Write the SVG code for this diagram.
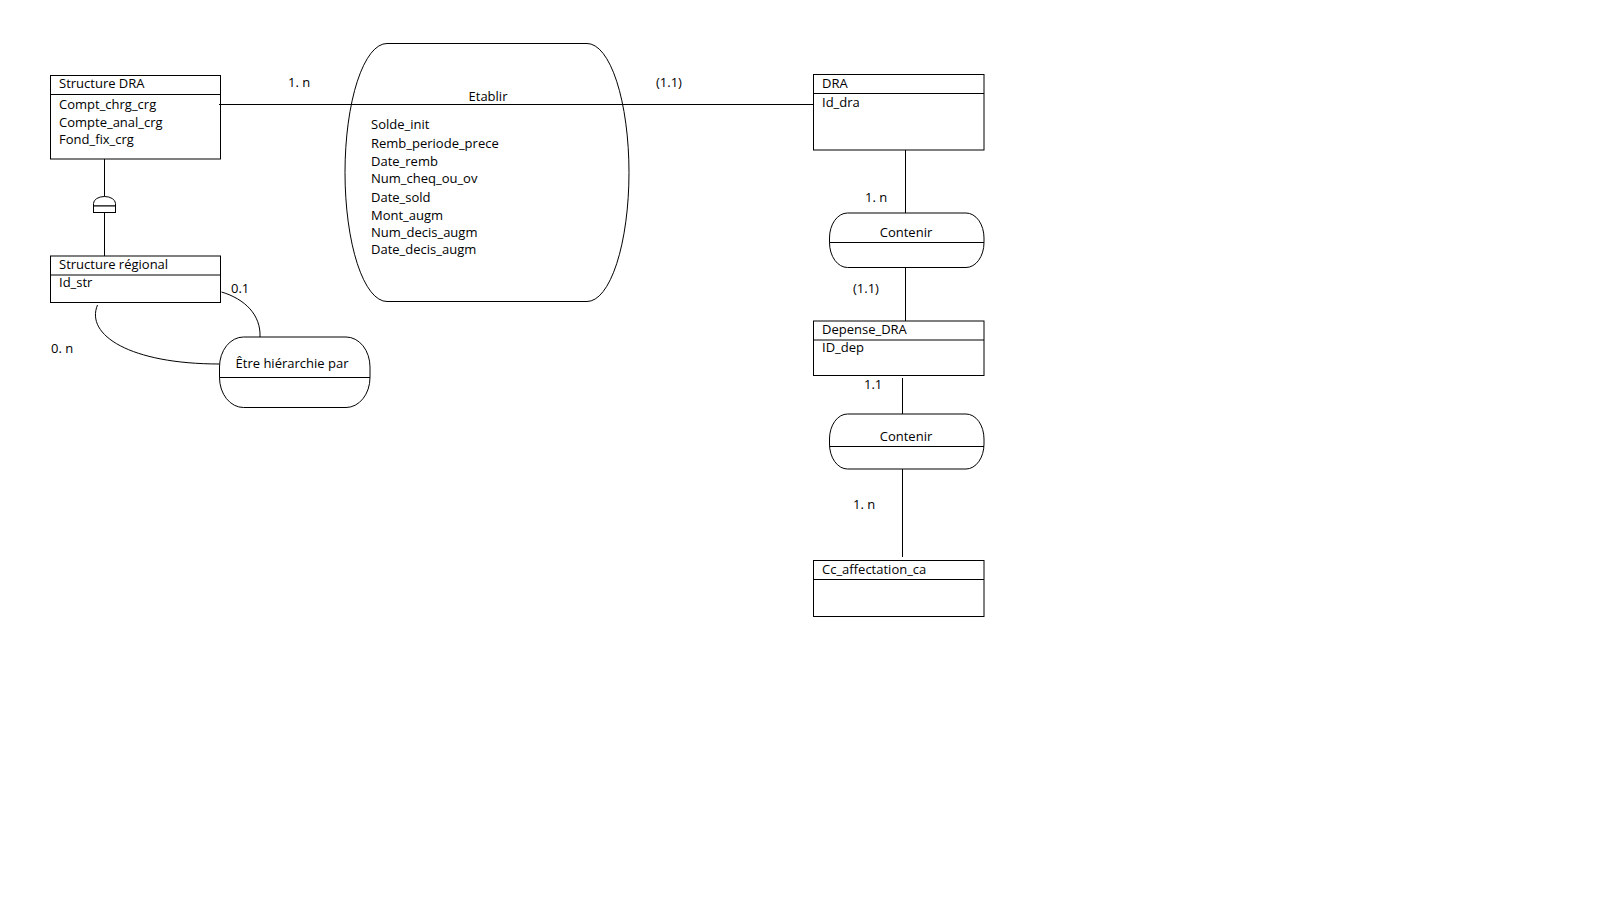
<svg xmlns="http://www.w3.org/2000/svg" width="1602" height="902" viewBox="0 0 1602 902">
<style>
text{font-family:"Open Sans","Liberation Sans",sans-serif;font-size:13px;fill:#000}
.s{fill:none;stroke:#000;stroke-width:1}
.b{fill:#fff;stroke:#000;stroke-width:1}
.m{text-anchor:middle}
</style>
<rect width="1602" height="902" fill="#fff"/>
<g id="connectors">
<line class="s" x1="219" y1="104.5" x2="813" y2="104.5"/>
<line class="s" x1="104.5" y1="159" x2="104.5" y2="197"/>
<line class="s" x1="104.5" y1="212.5" x2="104.5" y2="256"/>
<path class="s" d="M221.5,292 C245,299 261,315 260,337"/>
<path class="s" d="M97.5,305 C85,335 130,364 219.5,364"/>
<line class="s" x1="905.5" y1="150" x2="905.5" y2="213"/>
<line class="s" x1="905.5" y1="267" x2="905.5" y2="321"/>
<line class="s" x1="902.5" y1="378" x2="902.5" y2="414"/>
<line class="s" x1="902.5" y1="469" x2="902.5" y2="557"/>
<path class="b" d="M93.5,206 L93.5,203.5 A11,7 0 0 1 115.5,203.5 L115.5,206 Z"/>
<rect class="b" x="93.5" y="206" width="22" height="6.5"/>
<text x="288" y="87">1. n</text>
<text x="656" y="87">(1.1)</text>
<text x="231" y="293">0.1</text>
<text x="51" y="353">0. n</text>
<text x="865" y="202">1. n</text>
<text x="853" y="293">(1.1)</text>
<text x="864" y="389">1.1</text>
<text x="853" y="509">1. n</text>
</g>
<g id="structure-dra">
<rect class="s" x="50.5" y="75.5" width="170" height="83.5"/>
<line class="s" x1="50.5" y1="94.5" x2="220.5" y2="94.5"/>
<text x="59" y="88">Structure DRA</text>
<text x="59" y="109">Compt_chrg_crg</text>
<text x="59" y="127">Compte_anal_crg</text>
<text x="59" y="144">Fond_fix_crg</text>
</g>
<g id="structure-regional">
<rect class="s" x="50.5" y="256" width="170" height="46.5"/>
<line class="s" x1="50.5" y1="275" x2="220.5" y2="275"/>
<text x="59" y="269">Structure régional</text>
<text x="59" y="287">Id_str</text>
</g>
<g id="etre-hierarchie">
<rect class="s" x="219.5" y="337" width="150.5" height="70.5" rx="24" ry="30"/>
<line class="s" x1="219.5" y1="377.5" x2="370" y2="377.5"/>
<text class="m" x="292" y="368">Être hiérarchie par</text>
</g>
<g id="etablir">
<path class="s" d="M387,43.5 L587,43.5 A42,129 0 0 1 587,301.5 L387,301.5 A42,129 0 0 1 387,43.5 Z"/>
<text class="m" x="488" y="100.5">Etablir</text>
<text x="371" y="129">Solde_init</text>
<text x="371" y="147.5">Remb_periode_prece</text>
<text x="371" y="165.5">Date_remb</text>
<text x="371" y="183">Num_cheq_ou_ov</text>
<text x="371" y="201.5">Date_sold</text>
<text x="371" y="219.5">Mont_augm</text>
<text x="371" y="236.5">Num_decis_augm</text>
<text x="371" y="254">Date_decis_augm</text>
</g>
<g id="dra">
<rect class="s" x="813.5" y="74.5" width="170.5" height="75.5"/>
<line class="s" x1="813.5" y1="93.5" x2="984" y2="93.5"/>
<text x="822" y="88">DRA</text>
<text x="822" y="106.5">Id_dra</text>
</g>
<g id="contenir-1">
<rect class="s" x="829.5" y="213" width="154.5" height="54.5" rx="18" ry="25"/>
<line class="s" x1="829.5" y1="242.5" x2="984" y2="242.5"/>
<text class="m" x="906" y="236.5">Contenir</text>
</g>
<g id="depense-dra">
<rect class="s" x="813.5" y="321" width="170.5" height="54.5"/>
<line class="s" x1="813.5" y1="340" x2="984" y2="340"/>
<text x="822" y="334">Depense_DRA</text>
<text x="822" y="351.5">ID_dep</text>
</g>
<g id="contenir-2">
<rect class="s" x="829.5" y="414" width="154.5" height="55" rx="18" ry="25"/>
<line class="s" x1="829.5" y1="446.5" x2="984" y2="446.5"/>
<text class="m" x="906" y="440.5">Contenir</text>
</g>
<g id="cc-affectation">
<rect class="s" x="813.5" y="560.5" width="170.5" height="56"/>
<line class="s" x1="813.5" y1="579.5" x2="984" y2="579.5"/>
<text x="822" y="574">Cc_affectation_ca</text>
</g>
</svg>
